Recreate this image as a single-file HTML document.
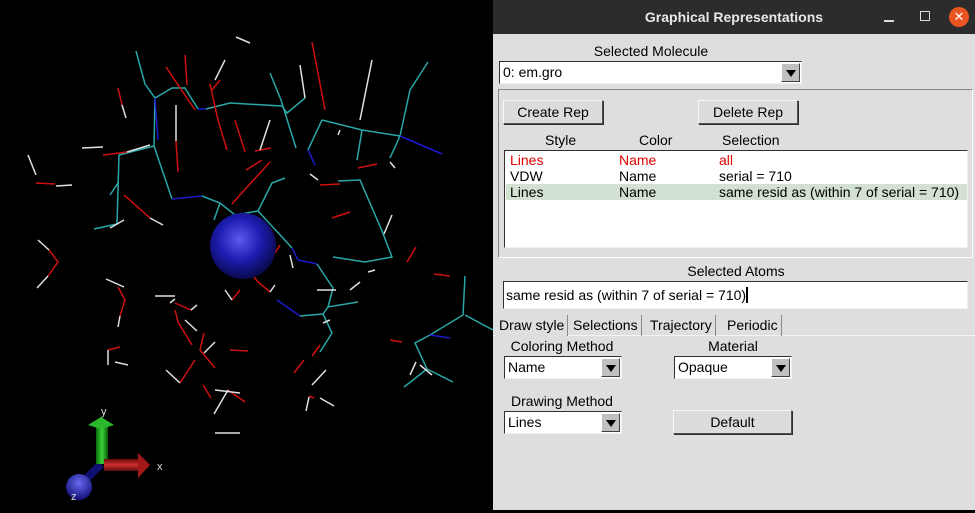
<!DOCTYPE html>
<html><head><meta charset="utf-8"><style>
*{margin:0;padding:0;box-sizing:border-box}
body{width:975px;height:510px;overflow:hidden;background:#000;font-family:"Liberation Sans","DejaVu Sans",sans-serif;font-size:14px;color:#000;position:relative}
.abs{position:absolute}
#view{left:0;top:0;width:493px;height:510px;background:#000}
#dlg{left:493px;top:0;width:482px;height:510px;background:#dedede}
#title{left:0;top:0;width:482px;height:34px;background:#2c2c2c;color:#e8e8e8;font-weight:bold;font-size:14px;text-align:center;line-height:34px}
.lbl{font-size:14px;text-align:center;white-space:nowrap}
.btn{background:#dcdcdc;border:1px solid;border-color:#f8f8f8 #505050 #505050 #f8f8f8;box-shadow:1px 1px 0 #303030;text-align:center;font-size:14px}
.combo{background:#fff;border:1px solid;border-color:#303030 #f0f0f0 #f0f0f0 #303030;font-size:14px;padding-left:3px;line-height:20px}
.arr{position:absolute;right:1px;top:1px;bottom:1px;width:19px;background:#c0c0c0;border:1px solid;border-color:#fff #404040 #404040 #fff}
.arr:after{content:"";position:absolute;left:4px;top:6px;border-left:5px solid transparent;border-right:5px solid transparent;border-top:7px solid #000}
.row{position:absolute;left:1px;width:461px;height:16px;line-height:16px;font-size:14px}
.row span{position:absolute;top:0}
.tab{top:315px;height:21px;line-height:21px;font-size:14px;border-right:1px solid #888;padding:0 3px}
</style></head><body>
<div id="view" class="abs">
<svg width="493" height="510">
<defs>
<radialGradient id="sph" cx="0.45" cy="0.4" r="0.65"><stop offset="0" stop-color="#5a5af0"/><stop offset="0.5" stop-color="#1c1cb0"/><stop offset="1" stop-color="#06063a"/></radialGradient>
<radialGradient id="sph2" cx="0.5" cy="0.35" r="0.7"><stop offset="0" stop-color="#6a6af0"/><stop offset="1" stop-color="#0a0a70"/></radialGradient>
<linearGradient id="gr" x1="0" x2="1"><stop offset="0" stop-color="#0a6a0a"/><stop offset="0.5" stop-color="#3ad03a"/><stop offset="1" stop-color="#0a5a0a"/></linearGradient>
<linearGradient id="rd" x1="0" y1="0" x2="0" y2="1"><stop offset="0" stop-color="#6a0a0a"/><stop offset="0.5" stop-color="#d03030"/><stop offset="1" stop-color="#5a0a0a"/></linearGradient>
</defs>
<g fill="none" stroke-width="1.5">
<g stroke="#2aa7a7">
<polyline points="136,51 145,84 155,98 172,88 185,88 198,109"/>
<polyline points="206,109 230,103 282,106 287,113 305,98"/>
<polyline points="270,73 281,100 296,148"/>
<polyline points="322,120 362,130 400,136 410,90 428,62"/>
<polyline points="322,120 308,150"/>
<polyline points="155,98 154,146 119,155 117,224 94,229"/>
<polyline points="154,146 172,199"/>
<polyline points="202,196 220,203 235,215 258,211 272,183 285,178"/>
<polyline points="258,211 282,237 292,248"/>
<polyline points="317,264 333,288 328,307 358,302"/>
<polyline points="333,257 365,262 392,257 382,231 360,180 338,181"/>
<polyline points="328,307 323,314 300,316"/>
<polyline points="323,314 332,333 320,352"/>
<polyline points="465,276 463,315 430,335 415,343 427,369 404,387"/>
<polyline points="427,369 453,382"/><polyline points="465,315 493,330"/>
<polyline points="362,130 357,160"/><polyline points="400,136 390,158"/>
<polyline points="118,183 110,195"/><polyline points="220,203 214,220"/>
</g>
<g stroke="#1a1acc">
<polyline points="198,109 206,109"/><polyline points="172,199 202,196"/>
<polyline points="292,248 298,260 317,264"/><polyline points="308,150 315,165"/>
<polyline points="400,136 442,154"/><polyline points="300,316 277,300"/>
<polyline points="430,335 450,338"/><polyline points="155,98 158,140"/>
</g>
<g stroke="#d01010">
<polyline points="36,183 55,184"/><polyline points="49,250 58,262 48,276"/>
<polyline points="118,88 122,105"/><polyline points="176,141 178,172"/>
<polyline points="210,84 218,120 227,150"/><polyline points="212,90 220,80"/>
<polyline points="185,55 187,85"/><polyline points="166,67 195,110"/>
<polyline points="312,42 325,110"/><polyline points="235,120 245,152"/>
<polyline points="232,204 240,195 270,162"/><polyline points="124,195 150,218"/>
<polyline points="242,262 258,282 270,292"/><polyline points="232,300 240,290"/>
<polyline points="175,303 191,310"/><polyline points="118,287 125,300 120,316"/>
<polyline points="175,310 178,322 192,345"/><polyline points="230,350 248,351"/>
<polyline points="204,333 200,350 215,368"/><polyline points="228,390 245,402"/>
<polyline points="108,350 120,347"/><polyline points="180,383 195,360"/>
<polyline points="211,398 203,385"/><polyline points="312,356 320,345"/>
<polyline points="294,373 304,360"/><polyline points="309,396 314,398"/>
<polyline points="434,274 450,276"/><polyline points="390,340 402,342"/>
<polyline points="332,218 350,212"/><polyline points="407,262 416,247"/>
<polyline points="255,151 271,148"/><polyline points="103,155 127,152"/>
<polyline points="320,185 340,184"/><polyline points="358,168 377,164"/>
<polyline points="275,253 280,245"/><polyline points="246,170 262,160"/>
</g>
<g stroke="#e0e0e0">
<polyline points="28,155 36,175"/><polyline points="56,186 72,185"/>
<polyline points="38,240 49,250"/><polyline points="48,276 37,288"/>
<polyline points="122,105 126,118"/><polyline points="176,105 176,141"/>
<polyline points="82,148 103,147"/><polyline points="127,152 150,145"/>
<polyline points="150,218 163,225"/><polyline points="110,228 124,220"/>
<polyline points="106,279 124,287"/><polyline points="120,316 118,327"/>
<polyline points="175,296 155,296"/><polyline points="191,310 197,305"/>
<polyline points="175,299 170,303"/><polyline points="204,353 215,342"/>
<polyline points="166,370 180,383"/><polyline points="228,390 214,414"/>
<polyline points="215,390 240,393"/><polyline points="215,433 240,433"/>
<polyline points="197,331 185,320"/><polyline points="108,350 108,365"/>
<polyline points="115,362 128,365"/><polyline points="215,258 245,262"/>
<polyline points="270,292 275,285"/><polyline points="232,300 225,290"/>
<polyline points="236,37 250,43"/><polyline points="225,60 215,80"/>
<polyline points="270,120 260,150"/><polyline points="300,65 305,98"/>
<polyline points="372,60 360,120"/><polyline points="340,130 338,135"/>
<polyline points="310,174 318,180"/><polyline points="390,162 395,168"/>
<polyline points="336,290 317,290"/><polyline points="392,215 384,234"/>
<polyline points="368,272 375,270"/><polyline points="350,290 360,282"/>
<polyline points="420,365 432,375"/><polyline points="416,362 410,375"/>
<polyline points="326,370 312,385"/><polyline points="320,398 334,406"/>
<polyline points="306,411 309,397"/><polyline points="255,256 272,258"/>
<polyline points="323,323 330,320"/><polyline points="290,255 293,268"/>
</g>
</g>
<circle cx="243" cy="246" r="33" fill="url(#sph)"/>
<g>
<line x1="101" y1="464" x2="80" y2="485" stroke="#101070" stroke-width="8"/>
<circle cx="79" cy="487" r="13" fill="url(#sph2)"/>
<rect x="96" y="426" width="12" height="38" fill="url(#gr)"/>
<polygon points="88,425 101,417 114,425 101,429" fill="#2cb82c"/>
<rect x="104" y="459" width="36" height="12" fill="url(#rd)"/>
<polygon points="138,453 150,465 138,478" fill="#a01818"/>
<text x="101" y="415" fill="#ddd" font-size="11" font-family="Liberation Sans,sans-serif">y</text>
<text x="157" y="470" fill="#ddd" font-size="11" font-family="Liberation Sans,sans-serif">x</text>
<text x="71" y="500" fill="#ddd" font-size="11" font-family="Liberation Sans,sans-serif">z</text>
</g>
</svg>
</div>
<div id="dlg" class="abs">
<div id="title" class="abs">Graphical Representations
<span class="abs" style="left:391px;top:20px;width:10px;height:2px;background:#ddd"></span>
<span class="abs" style="left:427px;top:11px;width:10px;height:10px;border:1.5px solid #ddd"></span>
<span class="abs" style="left:456px;top:7px;width:20px;height:20px;border-radius:50%;background:#e95420;color:#fff;font-size:13px;line-height:20px;font-weight:normal">✕</span>
</div>
<div class="abs lbl" style="left:0;width:316px;top:43px">Selected Molecule</div>
<div class="abs combo" style="left:6px;top:61px;width:303px;height:23px">0: em.gro<span class="arr"></span></div>
<div class="abs" style="left:5px;top:89px;width:475px;height:169px;border:1px solid;border-color:#888 #fff #fff #888"></div>
<div class="abs btn" style="left:10px;top:100px;width:100px;height:24px;line-height:22px">Create Rep</div>
<div class="abs btn" style="left:205px;top:100px;width:100px;height:24px;line-height:22px">Delete Rep</div>
<div class="abs lbl" style="left:52px;top:132px">Style</div>
<div class="abs lbl" style="left:146px;top:132px">Color</div>
<div class="abs lbl" style="left:229px;top:132px">Selection</div>
<div class="abs" style="left:11px;top:150px;width:464px;height:98px;background:#fff;border:1px solid;border-color:#303030 #f0f0f0 #f0f0f0 #303030">
<div class="row" style="top:1px;color:#e00000"><span style="left:4px">Lines</span><span style="left:113px">Name</span><span style="left:213px">all</span></div>
<div class="row" style="top:17px"><span style="left:4px">VDW</span><span style="left:113px">Name</span><span style="left:213px">serial = 710</span></div>
<div class="row" style="top:33px;background:#d3e1d3"><span style="left:4px">Lines</span><span style="left:113px">Name</span><span style="left:213px">same resid as (within 7 of serial = 710)</span></div>
</div>
<div class="abs lbl" style="left:0;width:486px;top:263px">Selected Atoms</div>
<div class="abs combo" style="left:10px;top:281px;width:465px;height:28px;line-height:26px;padding-left:2px">same resid as (within 7 of serial = 710)<span style="display:inline-block;width:2px;height:16px;background:#000;vertical-align:-3px"></span></div>
<div class="abs" style="left:0;top:335px;width:482px;height:1px;background:#f4f4f4"></div>
<div class="abs tab" style="left:3px;background:#dedede">Draw style</div>
<div class="abs tab" style="left:77px">Selections</div>
<div class="abs tab" style="left:154px">Trajectory</div>
<div class="abs tab" style="left:231px">Periodic</div>
<div class="abs lbl" style="left:11px;width:116px;top:338px">Coloring Method</div>
<div class="abs combo" style="left:11px;top:356px;width:118px;height:23px">Name<span class="arr"></span></div>
<div class="abs lbl" style="left:181px;width:118px;top:338px">Material</div>
<div class="abs combo" style="left:181px;top:356px;width:118px;height:23px">Opaque<span class="arr"></span></div>
<div class="abs lbl" style="left:11px;width:116px;top:393px">Drawing Method</div>
<div class="abs combo" style="left:11px;top:411px;width:118px;height:23px">Lines<span class="arr"></span></div>
<div class="abs btn" style="left:180px;top:410px;width:119px;height:24px;line-height:22px">Default</div>
</div>
</body></html>
